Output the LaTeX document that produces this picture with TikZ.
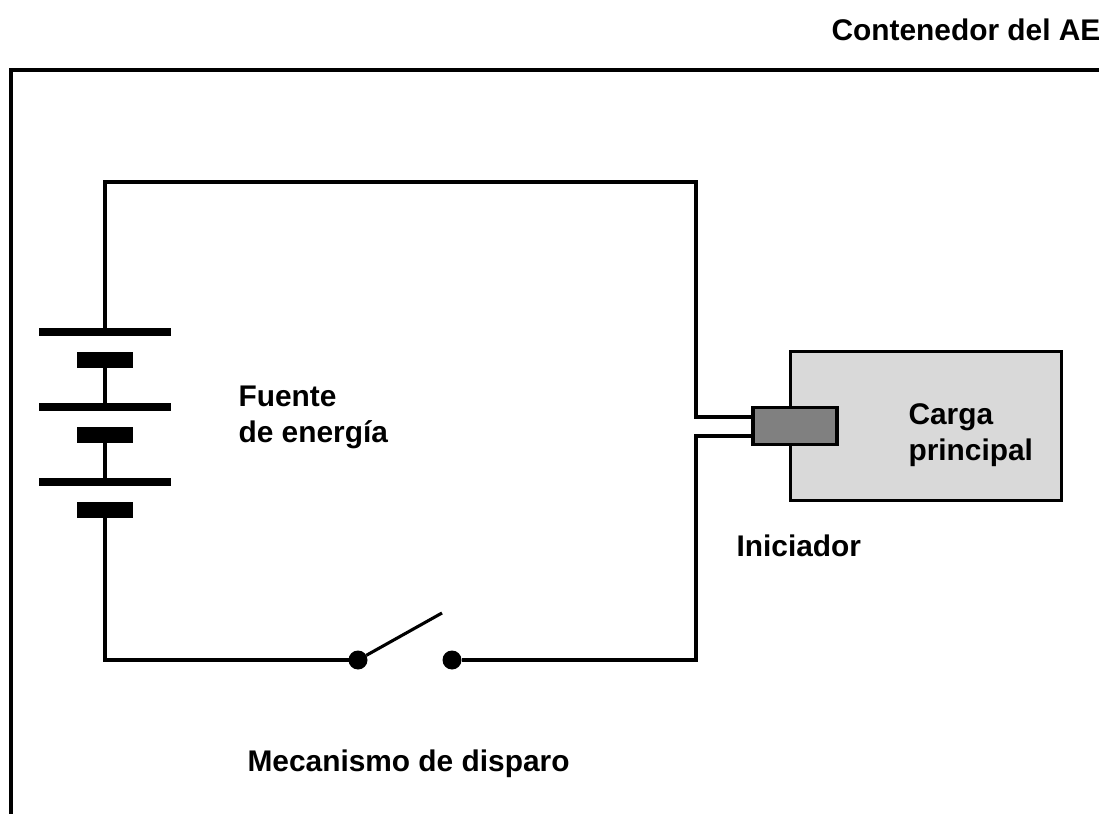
\documentclass[tikz,border=0pt]{standalone}
\usepackage{fontspec}
\setmainfont{Liberation Sans}
\usetikzlibrary{arrows.meta}

\begin{document}
\begin{tikzpicture}[x=0.02cm, y=-0.02cm, line width=0.062cm,
    label/.style = {font=\fontsize{17pt}{20.4pt}\selectfont\bfseries, inner sep=0pt, align=left, anchor=west},
    plate/.style = {fill, inner sep=0pt, outer sep=0pt, minimum width=2.64cm, minimum height=0.16cm},
    cell/.style = {fill, inner sep=0pt, outer sep=0pt, minimum width=1.12cm, minimum height=0.32cm},
    dot/.style = {circle, fill, inner sep=0pt, outer sep=0pt, minimum size=0.38cm},
    charge/.style = {draw, fill=black!15, inner sep=0pt, minimum width=5.42cm, minimum height=2.98cm},
    starter/.style = {draw, fill=black!50, inner sep=0pt, minimum width=1.68cm, minimum height=0.75cm}]
    \useasboundingbox (0, 0) rectangle (1099, 814);

    % Nodes

    \coordinate (frameA) at (11, 814);
    \coordinate (frameB) at (11, 70);
    \coordinate (frameC) at (1099, 70);

    \coordinate (topL) at (105, 182);
    \coordinate (topR) at (696, 182);
    \coordinate (leadA) at (696, 417);
    \coordinate (leadAend) at (753, 417);
    \coordinate (leadB) at (696, 436);
    \coordinate (leadBend) at (753, 436);
    \coordinate (botR) at (696, 660);
    \coordinate (botL) at (105, 660);
    \coordinate (tip) at (442, 613);

    \node[plate] (p1) at (105, 332) {};
    \node[cell] (c1) at (105, 360) {};
    \node[plate] (p2) at (105, 407) {};
    \node[cell] (c2) at (105, 435) {};
    \node[plate] (p3) at (105, 482) {};
    \node[cell] (c3) at (105, 510) {};

    \node[dot] (s1) at (358, 660) {};
    \node[dot] (s2) at (452, 660) {};

    \node[charge] (main) at (926, 426) {};

    % Edges

    \draw (frameA) -- (frameB) -- (frameC);
    \draw (p1.center) -- (topL) -- (topR) -- (leadA) -- (leadAend);
    \draw (leadBend) -- (leadB) -- (botR) -- (s2);
    \draw (c1.center) -- (p2.center);
    \draw (c2.center) -- (p3.center);
    \draw (c3.center) -- (botL) -- (s1);
    \draw (s1) -- (tip);

    \node[starter] (init) at (795, 426) {};

    % Labels

    \node[label] (title) at (830, 30) {Contenedor del AEI};
    \node[label] (source) at (237, 417) {Fuente\\de energía};
    \node[label] (load) at (907, 435) {Carga\\principal};
    \node[label] (initlabel) at (735, 546) {Iniciador};
    \node[label] (trigger) at (246, 764) {Mecanismo de disparo};

\end{tikzpicture}
\end{document}
